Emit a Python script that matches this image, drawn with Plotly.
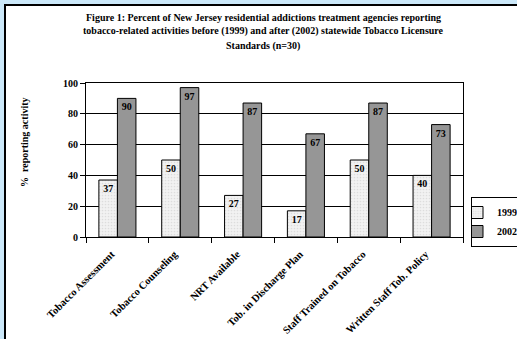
import plotly.graph_objects as go

categories = ["Tobacco Assessment", "Tobacco Counseling", "NRT Available",
              "Tob. in Discharge Plan", "Staff Trained on Tobacco", "Written Staff Tob. Policy"]
values_1999 = [37, 50, 27, 17, 50, 40]
values_2002 = [90, 97, 87, 67, 87, 73]
y_ticks = [0, 20, 40, 60, 80, 100]
title_lines = [
    "Figure 1: Percent of New Jersey residential addictions treatment agencies reporting",
    "tobacco-related activities before (1999) and after (2002) statewide Tobacco Licensure",
    "Standards (n=30)",
]

W, H = 517, 339
ML, MR, MT, MB = 86, 54, 83, 102
PW, PH = W - ML - MR, H - MT - MB

def px_x(x):
    return (x - ML) / PW

def px_y(y):
    return (H - MB - y) / PH

FONT = "Liberation Serif"
lab_font = dict(family=FONT, size=10, color="black", weight="bold")

fig = go.Figure()
fig.add_trace(go.Bar(
    x=categories, y=values_1999, name="1999",
    text=[str(v) for v in values_1999], textposition="inside",
    insidetextanchor="end", constraintext="none", textangle=0,
    textfont=lab_font,
    marker=dict(color="#f2f2f2", line=dict(color="black", width=1),
                pattern=dict(shape=".", fgcolor="#c8c8c8", bgcolor="#f2f2f2",
                             size=3, solidity=0.25)),
))
fig.add_trace(go.Bar(
    x=categories, y=values_2002, name="2002",
    text=[str(v) for v in values_2002], textposition="inside",
    insidetextanchor="end", constraintext="none", textangle=0,
    textfont=lab_font,
    marker=dict(color="#969696", line=dict(color="black", width=1)),
))

shapes = [dict(type="rect", xref="paper", yref="paper", layer="below",
               x0=px_x(5), x1=px_x(530), y0=px_y(360), y1=px_y(5),
               fillcolor="white", line=dict(color="black", width=2))]

annotations = []
for i, (line, yp) in enumerate(zip(title_lines, [17, 31.5, 46])):
    annotations.append(dict(text=line, xref="paper", yref="paper",
                            x=px_x(263), y=px_y(yp), xanchor="center", yanchor="middle",
                            showarrow=False, font=dict(family=FONT, size=10, color="black", weight="bold")))
annotations.append(dict(text="%  reporting activity", xref="paper", yref="paper",
                        x=px_x(24), y=px_y(142), xanchor="center", yanchor="middle",
                        textangle=-90, showarrow=False,
                        font=dict(family=FONT, size=10, color="black", weight="bold")))

fig.update_layout(
    width=W, height=H,
    margin=dict(l=ML, r=MR, t=MT, b=MB, autoexpand=False),
    paper_bgcolor="#cbe8f9",
    plot_bgcolor="rgba(0,0,0,0)",
    barmode="group", bargap=0.41, bargroupgap=0,
    shapes=shapes, annotations=annotations,
    showlegend=True,
    legend=dict(x=px_x(471), y=px_y(197), xanchor="left", yanchor="top",
                bgcolor="white", bordercolor="black", borderwidth=1,
                font=dict(family=FONT, size=10, color="black", weight="bold"),
                itemwidth=30, tracegroupgap=0, indentation=-15),
    xaxis=dict(showline=True, linecolor="black", linewidth=1, mirror=True,
               ticks="outside", ticklen=5, tickcolor="black", tickson="boundaries",
               tickangle=-45, ticklabelstandoff=6, ticklabelshift=-6,
               tickfont=dict(family=FONT, size=10.5, color="black", weight="bold"),
               showgrid=False),
    yaxis=dict(range=[0, 100], tickvals=y_ticks, showline=True, linecolor="black",
               linewidth=1, mirror=True, ticks="outside", ticklen=5, tickcolor="black",
               showgrid=True, gridcolor="black", gridwidth=1, zeroline=False,
               tickfont=dict(family=FONT, size=10, color="black", weight="bold")),
)

fig.write_html("out.html")
